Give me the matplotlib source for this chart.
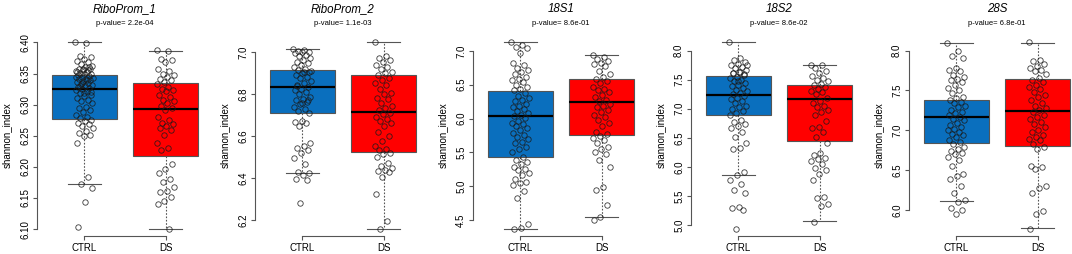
import numpy as np
import matplotlib
matplotlib.use("Agg")
import matplotlib.pyplot as plt

plt.rcParams['font.family'] = ['Liberation Sans', 'DejaVu Sans']

# panel titles / p-values
titles = ["RiboProm_1", "RiboProm_2", "18S1", "18S2", "28S"]
pvalues = ["2.2e-04", "1.1e-03", "8.6e-01", "8.6e-02", "6.8e-01"]
groups = ["CTRL", "DS"]

yticks = [
    [6.10, 6.15, 6.20, 6.25, 6.30, 6.35, 6.40],
    [6.2, 6.4, 6.6, 6.8, 7.0],
    [4.5, 5.0, 5.5, 6.0, 6.5, 7.0],
    [5.0, 5.5, 6.0, 6.5, 7.0, 7.5, 8.0],
    [6.0, 6.5, 7.0, 7.5, 8.0],
]
ytick_fmt = ["%.2f", "%.1f", "%.1f", "%.1f", "%.1f"]

# box statistics: (whislo, q1, median, q3, whishi)
ctrl_box = [
    (6.172, 6.277, 6.325, 6.348, 6.400),
    (6.423, 6.709, 6.836, 6.915, 7.014),
    (4.376, 5.434, 6.036, 6.414, 7.124),
    (5.869, 6.890, 7.241, 7.571, 8.139),
    (6.114, 6.846, 7.171, 7.385, 8.088),
]
ds_box = [
    (6.101, 6.217, 6.293, 6.335, 6.387),
    (6.158, 6.524, 6.714, 6.891, 7.047),
    (4.550, 5.752, 6.240, 6.578, 6.935),
    (5.067, 6.450, 7.175, 7.403, 7.760),
    (5.773, 6.800, 7.242, 7.646, 8.100),
]

# individual samples (shannon index)
ctrl_p1 = [6.400, 6.399, 6.378, 6.377, 6.374, 6.370, 6.368, 6.365, 6.362, 6.360, 6.358, 6.357,
           6.356, 6.354, 6.352, 6.351, 6.350, 6.349, 6.347, 6.346, 6.345, 6.343, 6.342, 6.341,
           6.339, 6.338, 6.336, 6.335, 6.333, 6.331, 6.330, 6.329, 6.327, 6.325, 6.324, 6.322,
           6.319, 6.316, 6.314, 6.311, 6.308, 6.306, 6.303, 6.297, 6.295, 6.292, 6.289, 6.284,
           6.281, 6.278, 6.276, 6.273, 6.271, 6.269, 6.266, 6.262, 6.257, 6.254, 6.252, 6.249,
           6.239, 6.184, 6.173, 6.166, 6.143, 6.103, 6.360, 6.358, 6.345, 6.340, 6.330, 6.320,
           6.318, 6.352, 6.355, 6.335]
ds_p1 = [6.388, 6.387, 6.374, 6.372, 6.368, 6.357, 6.354, 6.350, 6.347, 6.345, 6.342, 6.340,
         6.336, 6.333, 6.329, 6.325, 6.323, 6.322, 6.316, 6.313, 6.308, 6.306, 6.303, 6.298,
         6.295, 6.292, 6.280, 6.275, 6.271, 6.269, 6.266, 6.262, 6.259, 6.252, 6.239, 6.230,
         6.228, 6.205, 6.196, 6.191, 6.181, 6.176, 6.168, 6.161, 6.160, 6.152, 6.146, 6.141,
         6.101]
ctrl_p2 = [7.016, 7.013, 7.008, 7.003, 7.000, 6.995, 6.987, 6.981, 6.971, 6.965, 6.955, 6.949,
           6.939, 6.928, 6.920, 6.915, 6.907, 6.900, 6.891, 6.884, 6.875, 6.863, 6.852, 6.843,
           6.836, 6.827, 6.820, 6.810, 6.799, 6.788, 6.775, 6.772, 6.762, 6.751, 6.740, 6.730,
           6.719, 6.708, 6.671, 6.666, 6.660, 6.650, 6.566, 6.554, 6.542, 6.531, 6.518, 6.494,
           6.467, 6.430, 6.422, 6.414, 6.395, 6.390, 6.282, 6.910, 6.905, 6.840, 6.770, 6.760]
ds_p2 = [7.047, 6.981, 6.971, 6.965, 6.955, 6.939, 6.928, 6.920, 6.907, 6.900, 6.891, 6.875,
         6.868, 6.855, 6.843, 6.827, 6.807, 6.799, 6.783, 6.775, 6.756, 6.743, 6.735, 6.724,
         6.711, 6.703, 6.692, 6.679, 6.671, 6.660, 6.647, 6.618, 6.599, 6.574, 6.550, 6.537,
         6.531, 6.521, 6.515, 6.502, 6.473, 6.457, 6.446, 6.438, 6.435, 6.430, 6.403, 6.325,
         6.194, 6.158]
ctrl_p3 = [7.124, 7.084, 7.050, 7.035, 6.975, 6.826, 6.786, 6.751, 6.717, 6.687, 6.652, 6.617,
           6.587, 6.568, 6.538, 6.503, 6.468, 6.438, 6.419, 6.379, 6.339, 6.304, 6.279, 6.255,
           6.220, 6.190, 6.170, 6.140, 6.105, 6.081, 6.056, 6.031, 6.006, 5.971, 5.941, 5.922,
           5.892, 5.857, 5.832, 5.792, 5.757, 5.733, 5.693, 5.658, 5.633, 5.584, 5.544, 5.509,
           5.434, 5.395, 5.360, 5.325, 5.285, 5.261, 5.236, 5.196, 5.161, 5.111, 5.062, 5.047,
           5.012, 4.927, 4.828, 4.440, 4.390, 4.376]
ds_p3 = [6.935, 6.916, 6.876, 6.851, 6.826, 6.801, 6.776, 6.702, 6.652, 6.617, 6.587, 6.553,
         6.528, 6.468, 6.438, 6.419, 6.389, 6.354, 6.319, 6.279, 6.255, 6.220, 6.190, 6.170,
         6.130, 6.091, 6.056, 6.021, 5.981, 5.941, 5.892, 5.807, 5.772, 5.743, 5.708, 5.683,
         5.633, 5.584, 5.544, 5.509, 5.474, 5.385, 5.285, 4.987, 4.947, 4.729, 4.550, 4.500]
ctrl_p4 = [8.139, 7.872, 7.833, 7.805, 7.777, 7.749, 7.721, 7.693, 7.665, 7.638, 7.610, 7.582,
           7.554, 7.526, 7.498, 7.470, 7.442, 7.415, 7.387, 7.359, 7.331, 7.303, 7.275, 7.247,
           7.219, 7.191, 7.164, 7.136, 7.091, 7.052, 7.024, 6.996, 6.957, 6.924, 6.902, 6.801,
           6.773, 6.734, 6.701, 6.662, 6.606, 6.522, 6.411, 6.327, 6.310, 5.909, 5.864, 5.770,
           5.714, 5.613, 5.547, 5.307, 5.296, 5.268, 4.944, 7.760, 7.640, 7.620, 7.600, 7.480]
ds_p4 = [7.760, 7.749, 7.693, 7.649, 7.610, 7.571, 7.537, 7.498, 7.470, 7.426, 7.403, 7.370,
         7.348, 7.314, 7.292, 7.247, 7.191, 7.136, 7.091, 7.052, 7.024, 6.980, 6.941, 6.902,
         6.790, 6.690, 6.662, 6.606, 6.522, 6.411, 6.244, 6.199, 6.160, 6.132, 6.104, 6.048,
         5.976, 5.954, 5.881, 5.786, 5.491, 5.463, 5.363, 5.324, 5.062]
ctrl_p5 = [8.088, 7.992, 7.928, 7.907, 7.781, 7.760, 7.739, 7.697, 7.667, 7.642, 7.625, 7.600,
           7.570, 7.528, 7.507, 7.465, 7.423, 7.402, 7.381, 7.360, 7.339, 7.305, 7.288, 7.255,
           7.234, 7.213, 7.192, 7.170, 7.149, 7.128, 7.095, 7.065, 7.044, 7.023, 7.002, 6.981,
           6.960, 6.939, 6.918, 6.884, 6.855, 6.834, 6.791, 6.770, 6.741, 6.716, 6.699, 6.665,
           6.631, 6.560, 6.455, 6.434, 6.391, 6.307, 6.223, 6.126, 6.109, 6.025, 6.000, 5.949]
ds_p5 = [8.101, 7.886, 7.865, 7.836, 7.802, 7.781, 7.760, 7.739, 7.709, 7.655, 7.634, 7.600,
         7.570, 7.541, 7.516, 7.486, 7.444, 7.415, 7.381, 7.339, 7.305, 7.276, 7.255, 7.234,
         7.192, 7.170, 7.137, 7.107, 7.078, 7.044, 7.010, 6.981, 6.939, 6.918, 6.897, 6.876,
         6.834, 6.791, 6.770, 6.560, 6.539, 6.518, 6.307, 6.278, 6.223, 5.991, 5.949, 5.772]

ctrl_points = [ctrl_p1, ctrl_p2, ctrl_p3, ctrl_p4, ctrl_p5]
ds_points = [ds_p1, ds_p2, ds_p3, ds_p4, ds_p5]

BOX_COLORS = ["#0A6FBE", "#FF0000"]
EDGE = "#555555"

W, H = 1072, 254
fig = plt.figure(figsize=(W / 100, H / 100), dpi=100)

panel_left = [37, 255, 473, 691, 909]
ax_w, ax_top, ax_bot = 176, 35, 236


def jitter(n, amount=0.11):
    # deterministic spread around the group centre
    k = np.arange(n)
    return ((k * 0.6180339) % 1.0 - 0.5) * 2 * amount


for i in range(5):
    ax = fig.add_axes([panel_left[i] / W, (H - ax_bot) / H, ax_w / W, (ax_bot - ax_top) / H])

    stats = []
    for b, lab in zip([ctrl_box[i], ds_box[i]], groups):
        stats.append(dict(whislo=b[0], q1=b[1], med=b[2], q3=b[3], whishi=b[4], label=lab, fliers=[]))
    bp = ax.bxp(stats, positions=[1, 2], widths=0.8, capwidths=0.4, patch_artist=True,
                showfliers=False,
                boxprops=dict(edgecolor=EDGE, linewidth=0.8),
                medianprops=dict(color="black", linewidth=1.6),
                whiskerprops=dict(color=EDGE, linewidth=0.8, linestyle=(0, (1.5, 1.5))),
                capprops=dict(color=EDGE, linewidth=0.8))
    for patch, c in zip(bp['boxes'], BOX_COLORS):
        patch.set_facecolor(c)

    for pos, pts in zip([1, 2], [ctrl_points[i], ds_points[i]]):
        pts = np.array(pts)
        ax.plot(pos + jitter(len(pts)), pts, 'o', ms=3.9, mfc='none', mec='#1a1a1a', mew=0.6,
                zorder=5, alpha=0.85)

    lo = min(min(ctrl_points[i]), min(ds_points[i]), ctrl_box[i][0], ds_box[i][0])
    hi = max(max(ctrl_points[i]), max(ds_points[i]), ctrl_box[i][4], ds_box[i][4])
    pad = (hi - lo) * 0.04
    ax.set_ylim(lo - pad, hi + pad)
    ax.set_xlim(0.42, 2.58)

    for s in ['top', 'right']:
        ax.spines[s].set_visible(False)
    for s in ['left', 'bottom']:
        ax.spines[s].set_color(EDGE)
        ax.spines[s].set_linewidth(0.8)
    ax.spines['left'].set_bounds(yticks[i][0], yticks[i][-1])
    ax.spines['bottom'].set_bounds(1, 2)

    ax.set_yticks(yticks[i])
    ax.set_yticklabels([ytick_fmt[i] % v for v in yticks[i]], rotation=90, va='center')
    ax.set_xticks([1, 2])
    ax.set_xticklabels(groups)
    ax.tick_params(axis='both', colors=EDGE, labelcolor='black', labelsize=7, length=3, width=0.8, pad=2)
    ax.set_ylabel("shannon_index", fontsize=7, labelpad=6)

    ax.text(0.5, 1.0 + 26 / 201, titles[i], transform=ax.transAxes, ha='center', va='center',
            fontsize=8.3, style='italic')
    ax.text(0.5, 1.0 + 11 / 201, "p-value= " + pvalues[i], transform=ax.transAxes,
            ha='center', va='center', fontsize=5.5)

fig.savefig("out.png", dpi=100)
